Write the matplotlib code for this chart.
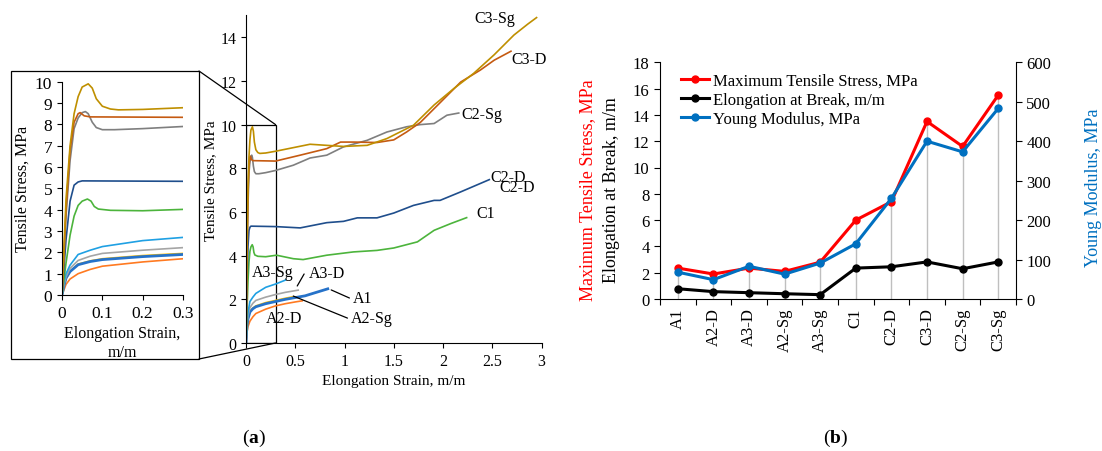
"""Tensile test results: (a) stress-strain curves with a zoomed inset,
(b) max stress, elongation and Young modulus for each sample."""

import numpy as np
import matplotlib
matplotlib.use("Agg")
import matplotlib.pyplot as plt
from matplotlib.patches import Rectangle, ConnectionPatch
from matplotlib.ticker import FuncFormatter

plt.rcParams["font.family"] = ["Liberation Serif", "DejaVu Serif"]
plt.rcParams["mathtext.fontset"] = "custom"
plt.rcParams["mathtext.rm"] = "Liberation Serif"
plt.rcParams["mathtext.bf"] = "Liberation Serif:bold"

# (a) stress-strain curves (strain m/m, stress MPa)
c3sg_strain = [0, 0.01, 0.02, 0.03, 0.04, 0.05, 0.065, 0.075, 0.085, 0.1, 0.12,
               0.14, 0.2, 0.3, 0.65, 0.99, 1.23, 1.43, 1.7, 1.91, 2.11, 2.31,
               2.52, 2.72, 2.86, 2.95]
c3sg_stress = [0, 4.5, 7.0, 8.5, 9.3, 9.75, 9.9, 9.7, 9.2, 8.85, 8.72, 8.68,
               8.7, 8.78, 9.1, 9.0, 9.05, 9.36, 9.97, 10.9, 11.65, 12.34,
               13.2, 14.1, 14.6, 14.9]

c3d_strain = [0, 0.01, 0.02, 0.03, 0.04, 0.045, 0.055, 0.07, 0.3, 0.55, 0.82,
              0.96, 1.09, 1.33, 1.5, 1.63, 1.77, 1.97, 2.18, 2.38, 2.52, 2.69]
c3d_stress = [0, 4.0, 6.8, 8.1, 8.5, 8.55, 8.4, 8.35, 8.33, 8.6, 8.9, 9.2,
              9.2, 9.18, 9.3, 9.66, 10.1, 11.0, 11.95, 12.5, 12.95, 13.36]

c2sg_strain = [0, 0.01, 0.02, 0.03, 0.04, 0.05, 0.058, 0.065, 0.075, 0.085,
               0.1, 0.13, 0.2, 0.3, 0.48, 0.65, 0.82, 0.99, 1.23, 1.43, 1.63,
               1.77, 1.91, 2.04, 2.16]
c2sg_stress = [0, 3.7, 6.3, 7.8, 8.3, 8.55, 8.6, 8.5, 8.1, 7.85, 7.75, 7.75,
               7.8, 7.9, 8.14, 8.47, 8.6, 8.98, 9.28, 9.66, 9.9, 10.0, 10.05,
               10.43, 10.53]

c2d_strain = [0, 0.01, 0.02, 0.03, 0.04, 0.05, 0.3, 0.55, 0.82, 0.99, 1.13,
              1.33, 1.5, 1.7, 1.91, 1.97, 2.18, 2.47]
c2d_stress = [0, 2.6, 4.4, 5.15, 5.3, 5.35, 5.33, 5.27, 5.51, 5.57, 5.73,
              5.73, 5.95, 6.3, 6.53, 6.53, 6.92, 7.48]

c1_strain = [0, 0.01, 0.02, 0.03, 0.04, 0.05, 0.063, 0.072, 0.08, 0.09, 0.12,
             0.2, 0.31, 0.48, 0.58, 0.82, 1.09, 1.33, 1.5, 1.74, 1.91, 2.08,
             2.24]
c1_stress = [0, 1.5, 2.8, 3.7, 4.2, 4.4, 4.5, 4.4, 4.15, 4.03, 3.97, 3.95,
             4.02, 3.86, 3.82, 4.02, 4.17, 4.24, 4.35, 4.63, 5.16, 5.47, 5.74]

a3sg_strain = [0, 0.005, 0.01, 0.02, 0.04, 0.07, 0.1, 0.2, 0.3, 0.4]
a3sg_stress = [0, 0.6, 1.0, 1.4, 1.9, 2.1, 2.27, 2.55, 2.7, 2.88]

a3d_strain = [0, 0.005, 0.01, 0.02, 0.04, 0.07, 0.1, 0.2, 0.3, 0.4, 0.53]
a3d_stress = [0, 0.5, 0.85, 1.25, 1.62, 1.82, 1.95, 2.1, 2.22, 2.32, 2.42]

a1_strain = [0, 0.005, 0.01, 0.02, 0.04, 0.07, 0.1, 0.2, 0.3, 0.4, 0.5, 0.6,
             0.7, 0.83]
a1_stress = [0, 0.45, 0.8, 1.1, 1.42, 1.57, 1.66, 1.8, 1.9, 2.0, 2.08, 2.16,
             2.3, 2.48]

a2sg_strain = [0, 0.005, 0.01, 0.02, 0.04, 0.07, 0.1, 0.2, 0.3, 0.4, 0.48]
a2sg_stress = [0, 0.4, 0.75, 1.1, 1.45, 1.6, 1.7, 1.85, 1.95, 2.05, 2.12]

a2d_strain = [0, 0.005, 0.01, 0.02, 0.04, 0.07, 0.1, 0.2, 0.3, 0.4, 0.5, 0.57]
a2d_stress = [0, 0.25, 0.5, 0.75, 1.0, 1.2, 1.35, 1.55, 1.7, 1.8, 1.88, 1.93]

# (b) summary per sample
samples = ["A1", "A2-D", "A3-D", "A2-Sg", "A3-Sg",
           "C1", "C2-D", "C3-D", "C2-Sg", "C3-Sg"]
max_stress = [2.35, 1.9, 2.35, 2.1, 2.8, 6.0, 7.4, 13.5, 11.6, 15.5]
elongation = [0.78, 0.56, 0.48, 0.4, 0.33, 2.35, 2.45, 2.82, 2.3, 2.82]
young_modulus = [68, 49, 83, 63, 91, 140, 255, 400, 373, 483]

curves = [
    (a2d_strain, a2d_stress, "#FF7A21", 1.2),
    (a2sg_strain, a2sg_stress, "#FFC000", 1.2),
    (a1_strain, a1_stress, "#2672C9", 2.0),
    (a3d_strain, a3d_stress, "#A5A5A5", 1.2),
    (a3sg_strain, a3sg_stress, "#1FA0E3", 1.2),
    (c1_strain, c1_stress, "#4CB43C", 1.2),
    (c2d_strain, c2d_stress, "#1F4E8C", 1.2),
    (c2sg_strain, c2sg_stress, "#7F7F7F", 1.2),
    (c3d_strain, c3d_stress, "#C55A11", 1.2),
    (c3sg_strain, c3sg_stress, "#BF8F00", 1.2),
]

W, H = 1102, 452
fig = plt.figure(figsize=(W / 100, H / 100), dpi=100)


def px_axes(left, top, right, bottom):
    """Axes placed by pixel edges of the figure."""
    return fig.add_axes([left / W, 1 - bottom / H,
                         (right - left) / W, (bottom - top) / H])


def style_axes(ax, size):
    for side in ("top", "right"):
        ax.spines[side].set_visible(False)
    for side in ("left", "bottom"):
        ax.spines[side].set_linewidth(0.8)
    ax.tick_params(direction="out", length=3.5, width=0.8, labelsize=size)


num_fmt = FuncFormatter(lambda v, _: f"{v:g}")

# ---- (a) main panel
ax_main = px_axes(246, 16.4, 541.5, 344)
for x, y, c, lw in curves:
    ax_main.plot(x, y, color=c, lw=lw)
ax_main.set_xlim(0, 3)
ax_main.set_ylim(0, 15)
ax_main.set_xticks(np.arange(0, 3.01, 0.5))
ax_main.set_yticks(np.arange(0, 15, 2))
ax_main.xaxis.set_major_formatter(num_fmt)
style_axes(ax_main, 11.5)
ax_main.set_xlabel("Elongation Strain, m/m", fontsize=11, labelpad=4)
ax_main.set_ylabel("Tensile Stress, MPa", fontsize=11, labelpad=2)
ax_main.add_patch(Rectangle((0, 0), 0.3, 10, fill=False, ec="black", lw=0.9))

curve_labels = [
    ("C3-Sg", 2.53, 14.87), ("C3-D", 2.87, 13.0), ("C2-Sg", 2.39, 10.49),
    ("C2-D", 2.66, 7.6), ("C2-D", 2.75, 7.14), ("C1", 2.43, 5.95),
    ("A3-Sg", 0.27, 3.25), ("A3-D", 0.82, 3.2), ("A1", 1.18, 2.06),
    ("A2-Sg", 1.28, 1.14), ("A2-D", 0.39, 1.14),
]
for name, x, y in curve_labels:
    ax_main.text(x, y, name, fontsize=11.5, ha="center", va="center")

leaders = [((0.52, 2.61), (0.59, 3.16)),
           ((0.865, 2.43), (1.05, 2.06)),
           ((0.48, 2.15), (1.03, 1.14))]
for start, end in leaders:
    ax_main.annotate("", xy=start, xytext=end,
                     arrowprops=dict(arrowstyle="-", lw=0.9, color="black",
                                     shrinkA=0, shrinkB=0))

# ---- (a) inset
ax_in = px_axes(62, 82.7, 183, 296)
for x, y, c, lw in curves:
    ax_in.plot(x, y, color=c, lw=lw)
ax_in.set_xlim(0, 0.3)
ax_in.set_ylim(0, 10)
ax_in.set_xticks([0, 0.1, 0.2, 0.3])
ax_in.set_yticks(range(0, 11))
ax_in.xaxis.set_major_formatter(num_fmt)
style_axes(ax_in, 12.5)
ax_in.set_xlabel("Elongation Strain,\nm/m", fontsize=11.5, labelpad=3,
                 linespacing=1.25)
ax_in.set_ylabel("Tensile Stress, MPa", fontsize=11.5, labelpad=3)

# frame around the inset and the zoom lines
fx0, fy0, fx1, fy1 = 11 / W, 1 - 360 / H, 199 / W, 1 - 72 / H
fig.add_artist(Rectangle((fx0, fy0), fx1 - fx0, fy1 - fy0, fill=False,
                         ec="black", lw=0.9, transform=fig.transFigure))
for corner, data_pt in (((fx1, fy1), (0.3, 10)), ((fx1, fy0), (0.3, 0))):
    fig.add_artist(ConnectionPatch(xyA=corner, coordsA=fig.transFigure,
                                   xyB=data_pt, coordsB=ax_main.transData,
                                   color="black", lw=0.9))

# ---- (b)
ax_b = px_axes(660, 63.3, 1016, 300)
pos = np.arange(len(samples))
scale = 18 / 600
drop_top = np.maximum(np.maximum(max_stress, elongation),
                      np.array(young_modulus) * scale)
ax_b.vlines(pos, 0, drop_top, color="#BFBFBF", lw=1.0, zorder=1)
l_red, = ax_b.plot(pos, max_stress, color="#FF0000", lw=2.2, marker="o",
                   ms=5, zorder=3, label="Maximum Tensile Stress, MPa")
l_blk, = ax_b.plot(pos, elongation, color="black", lw=2.2, marker="o",
                   ms=5, zorder=3, label="Elongation at Break, m/m")
ax_b.set_xlim(-0.5, len(samples) - 0.5)
ax_b.set_ylim(0, 18)
ax_b.set_yticks(range(0, 19, 2))
ax_b.set_xticks(pos)
ax_b.set_xticklabels(samples, rotation=90)
ax_b.set_xticks(np.arange(-0.5, len(samples)), minor=True)
ax_b.tick_params(axis="x", which="major", length=0, pad=6)
ax_b.tick_params(axis="x", which="minor", length=4, width=0.8,
                 direction="out")
ax_b.tick_params(axis="y", direction="out", length=4, width=0.8)
ax_b.tick_params(labelsize=12)
ax_b.spines["top"].set_visible(False)
ax_b.spines["right"].set_visible(False)
for side in ("left", "bottom"):
    ax_b.spines[side].set_linewidth(0.8)

ax_b2 = ax_b.twinx()
l_blu, = ax_b2.plot(pos, young_modulus, color="#0070C0", lw=2.2, marker="o",
                    ms=5, zorder=3, label="Young Modulus, MPa")
ax_b2.set_ylim(0, 600)
ax_b2.set_yticks(range(0, 601, 100))
ax_b2.tick_params(direction="out", length=4, width=0.8, labelsize=12)
ax_b2.spines["top"].set_visible(False)
ax_b2.spines["left"].set_visible(False)
ax_b2.spines["bottom"].set_visible(False)
ax_b2.spines["right"].set_linewidth(0.8)

ax_b.legend(handles=[l_red, l_blk, l_blu], loc="upper left",
            bbox_to_anchor=(0.04, 0.985), frameon=False, fontsize=12,
            handlelength=1.7, handletextpad=0.25, labelspacing=0.2,
            borderaxespad=0)

fig.text(588 / W, 1 - 190 / H, "Maximum Tensile Stress, MPa", color="#FF0000",
         rotation=90, fontsize=13, ha="center", va="center")
fig.text(612 / W, 1 - 190 / H, "Elongation at Break, m/m", color="black",
         rotation=90, fontsize=13, ha="center", va="center")
fig.text(1093 / W, 1 - 188 / H, "Young Modulus, MPa", color="#0070C0",
         rotation=90, fontsize=13, ha="center", va="center")

fig.text(254 / W, 1 - 438 / H, r"($\mathbf{a}$)", fontsize=14,
         ha="center", va="center")
fig.text(836 / W, 1 - 438 / H, r"($\mathbf{b}$)", fontsize=14,
         ha="center", va="center")

fig.savefig("out.png", dpi=100)
